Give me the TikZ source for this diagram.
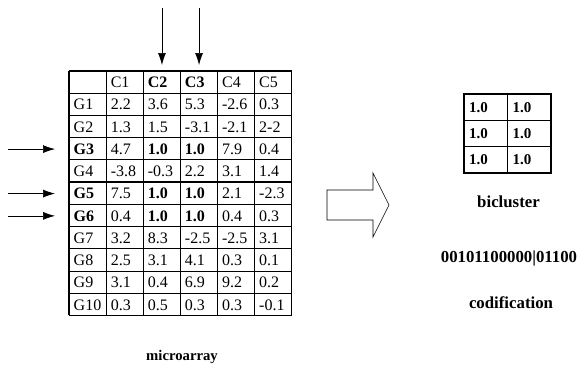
\documentclass[tikz,border=0pt]{standalone}
\usepackage{fontspec}
\setmainfont{Liberation Serif}
\usetikzlibrary{matrix,arrows.meta}
\tikzset{
  thin grid/.style={line width=0.6pt},
  thick grid/.style={line width=1.2pt},
  pointer/.style={line width=0.7pt,-{Latex[length=12pt,width=8pt]}},
  datacell/.style={minimum height=22.2pt,text width=28.1pt,inner xsep=4.5pt,inner ysep=0pt,align=left,
    font=\fontsize{16}{18}\selectfont},
  bicell/.style={minimum height=26.3pt,text width=33.5pt,inner xsep=5pt,inner ysep=0pt,align=left,
    font=\fontsize{15}{17}\selectfont\bfseries},
  caption/.style={font=\fontsize{16.8}{19}\selectfont\bfseries,inner sep=0pt},
  small caption/.style={font=\fontsize{14.7}{17}\selectfont\bfseries,inner sep=0pt},
}
\begin{document}
\begin{tikzpicture}[x=1pt,y=-1pt]
\useasboundingbox (0,0) rectangle (579,368);

% expression matrix
\matrix (M) [matrix of nodes, nodes={datacell}, anchor=north west, inner sep=0pt,
  column sep=0pt, row sep=0pt] at (69,71) {
       & C1   & \textbf{C2} & \textbf{C3} & C4   & C5   \\
  G1   & 2.2  & 3.6  & 5.3  & -2.6 & 0.3  \\
  G2   & 1.3  & 1.5  & -3.1 & -2.1 & 2-2  \\
  \textbf{G3} & 4.7 & \textbf{1.0} & \textbf{1.0} & 7.9 & 0.4 \\
  G4   & -3.8 & -0.3 & 2.2  & 3.1  & 1.4  \\
  \textbf{G5} & 7.5 & \textbf{1.0} & \textbf{1.0} & 2.1 & -2.3 \\
  \textbf{G6} & 0.4 & \textbf{1.0} & \textbf{1.0} & 0.4 & 0.3 \\
  G7   & 3.2  & 8.3  & -2.5 & -2.5 & 3.1  \\
  G8   & 2.5  & 3.1  & 4.1  & 0.3  & 0.1  \\
  G9   & 3.1  & 0.4  & 6.9  & 9.2  & 0.2  \\
  G10  & 0.3  & 0.5  & 0.3  & 0.3  & -0.1 \\
};

% grid of the expression matrix
\foreach \c in {1,3,5} \draw[thin grid] (69+\c*37.1,71) -- ++(0,244.2);
\foreach \c in {0,2,4,6} \draw[thick grid] (69+\c*37.1,71) -- ++(0,244.2);
\foreach \r in {1,2,6,8,9,10} \draw[thin grid] (69,71+\r*22.2) -- ++(222.6,0);
\foreach \r in {0,3,4,5,7,11} \draw[thick grid] (69,71+\r*22.2) -- ++(222.6,0);

% selected columns and rows
\coordinate (topC2) at (M-1-3.north |- 0,8);
\coordinate (topC3) at (M-1-4.north |- 0,8);
\draw[pointer,shorten >=6pt] (topC2) -- (M-1-3.north);
\draw[pointer,shorten >=6pt] (topC3) -- (M-1-4.north);
\foreach \r in {4,6,7} {
  \coordinate (left\r) at (8,0 |- M-\r-1.west);
  \draw[pointer,shorten >=14pt] (left\r) -- (M-\r-1.west);
}

\node[small caption] (micro) at (182,357) {microarray};

% transformation arrow
\draw[line width=0.6pt] (327,190) -- (373,190) -- (373,173) -- (389,205)
  -- (373,237) -- (373,220) -- (327,220) -- cycle;

% bicluster
\matrix (B) [matrix of nodes, nodes={bicell}, anchor=north west, inner sep=0pt,
  column sep=0pt, row sep=0pt] at (464,94) {
  1.0 & 1.0 \\
  1.0 & 1.0 \\
  1.0 & 1.0 \\
};
\draw[thick grid] (464,94) rectangle (551,173);
\draw[thin grid] (507.5,94) -- (507.5,173);
\draw[thin grid] (464,120.3) -- (551,120.3);
\draw[thick grid] (464,146.6) -- (551,146.6);

\node[caption] (bic) at (508.5,202) {bicluster};
\node[caption] (code) at (509,258) {00101100000|01100};
\node[caption] (codif) at (511,303) {codification};
\end{tikzpicture}
\end{document}
